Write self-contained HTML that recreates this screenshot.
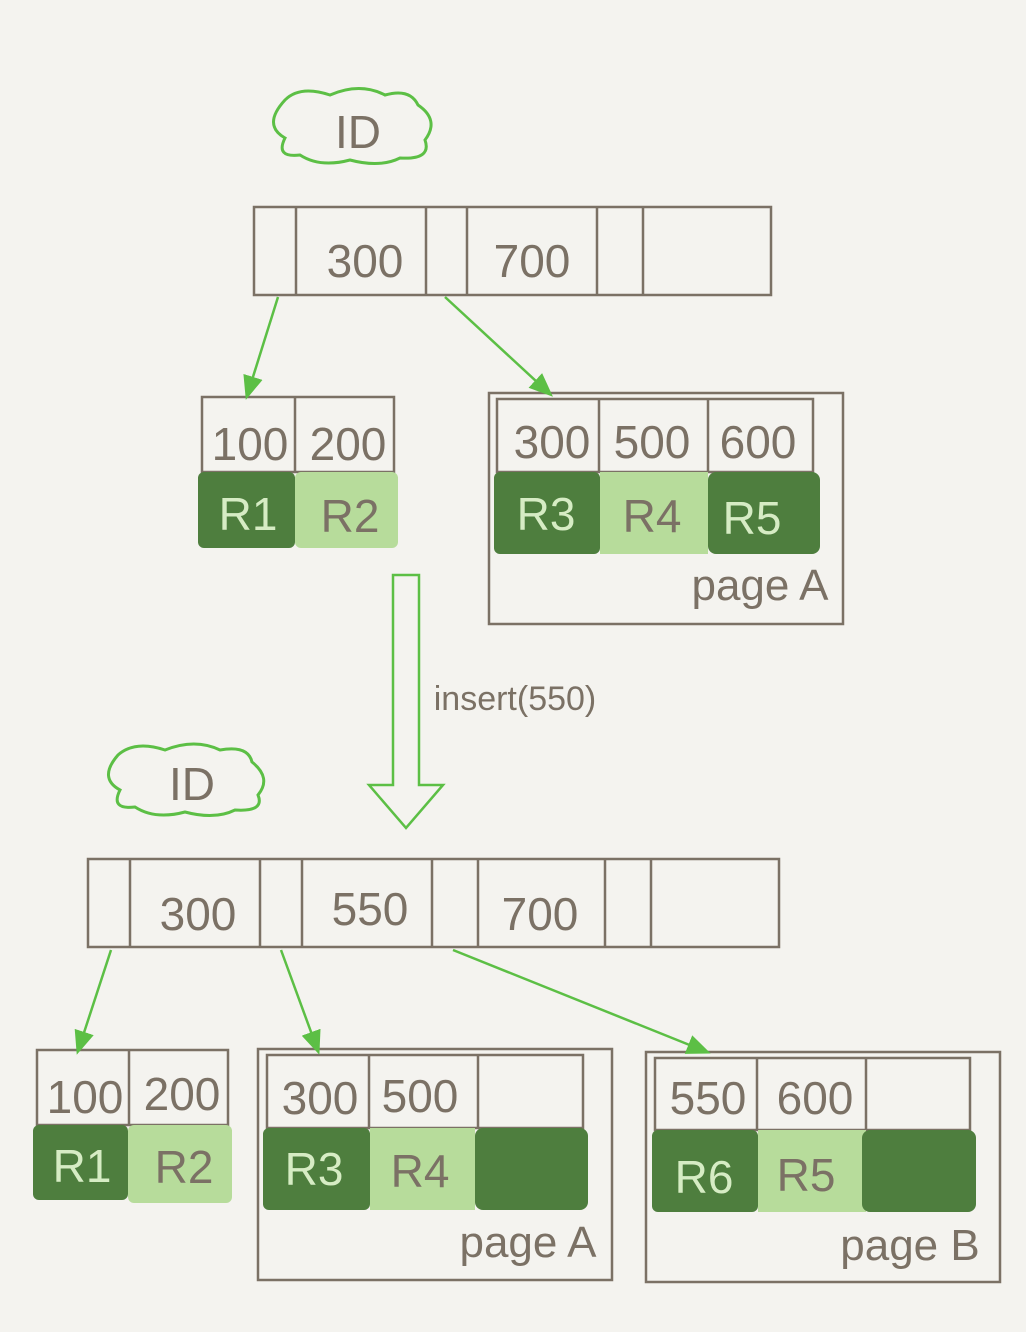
<!DOCTYPE html>
<html><head><meta charset="utf-8"><style>
html,body{margin:0;padding:0;background:#f4f3ef;}
svg{display:block}
text{font-family:"Liberation Sans Narrow","Liberation Sans",sans-serif;fill:#7b7165;text-anchor:middle;}
</style></head><body>
<svg width="1026" height="1332" viewBox="0 0 1026 1332" xmlns="http://www.w3.org/2000/svg">
<rect width="1026" height="1332" fill="#f4f3ef"/>
<defs>
<marker id="ah" markerWidth="24" markerHeight="20" refX="20" refY="10" orient="auto" markerUnits="userSpaceOnUse" viewBox="0 0 24 20">
<path d="M0,0 L24,10 L0,20 Z" fill="#5cbf45"/></marker>
</defs>
<g stroke="#7b7165" stroke-width="2.5" fill="none">
<rect x="254" y="207" width="517" height="88"/>
<path d="M296 207V295M426 207V295M467 207V295M597 207V295M643 207V295"/>
<rect x="202" y="397" width="192" height="75"/>
<path d="M295 397V472"/>
<rect x="489" y="393" width="354" height="231"/>
<rect x="497" y="399" width="316" height="73"/>
<path d="M599 399V472M708 399V472"/>
<rect x="88" y="859" width="691" height="88"/>
<path d="M130 859V947M260 859V947M302 859V947M432 859V947M478 859V947M605 859V947M651 859V947"/>
<rect x="37" y="1050" width="191" height="75"/>
<path d="M129 1050V1125"/>
<rect x="258" y="1049" width="354" height="231"/>
<rect x="267" y="1055" width="316" height="73"/>
<path d="M369 1055V1128M478 1055V1128"/>
<rect x="646" y="1052" width="354" height="230"/>
<rect x="655" y="1058" width="315" height="72"/>
<path d="M757 1058V1130M866 1058V1130"/>
</g>
<g>
<rect x="198" y="472" width="97" height="76" rx="6" fill="#4e7e3e"/>
<rect x="295" y="472" width="103" height="76" rx="6" fill="#b7dc9b"/>
<rect x="494" y="472" width="106" height="82" rx="6" fill="#4e7e3e"/>
<rect x="600" y="472" width="108" height="82" fill="#b7dc9b"/>
<rect x="708" y="472" width="112" height="82" rx="8" fill="#4e7e3e"/>
<rect x="33" y="1125" width="95" height="75" rx="6" fill="#4e7e3e"/>
<rect x="128" y="1125" width="104" height="78" rx="6" fill="#b7dc9b"/>
<rect x="263" y="1128" width="107" height="82" rx="6" fill="#4e7e3e"/>
<rect x="370" y="1128" width="105" height="82" fill="#b7dc9b"/>
<rect x="475" y="1128" width="113" height="82" rx="8" fill="#4e7e3e"/>
<rect x="652" y="1130" width="106" height="82" rx="6" fill="#4e7e3e"/>
<rect x="758" y="1130" width="108" height="82" fill="#b7dc9b"/>
<rect x="862" y="1130" width="114" height="82" rx="8" fill="#4e7e3e"/>
</g>
<g stroke="#5cbf45" stroke-width="2.5" fill="none" marker-end="url(#ah)">
<path d="M278 297L247 396"/>
<path d="M445 297L550 394"/>
<path d="M111 950L78 1051"/>
<path d="M281 950L318 1051"/>
<path d="M453 950L707 1052"/>
</g>
<path d="M393 575H419V785H443L406 828L369 785H393Z" fill="none" stroke="#5cbf45" stroke-width="2.5"/>
<path d="M285 100 Q300 85 330 95 Q360 82 385 95 Q410 88 418 105 Q440 120 425 140 Q432 160 400 158 Q380 168 350 160 Q320 168 300 155 Q275 158 285 138 Q262 125 285 100Z" fill="none" stroke="#5cbf45" stroke-width="3"/>
<path d="M118 755 Q135 740 165 750 Q195 738 220 750 Q248 745 252 762 Q272 778 258 795 Q265 812 235 810 Q215 820 185 812 Q155 820 135 807 Q110 810 120 790 Q98 778 118 755Z" fill="none" stroke="#5cbf45" stroke-width="3"/>
<g font-size="46">
<text x="358" y="148">ID</text>
<text x="192" y="800">ID</text>
<text x="365" y="277">300</text>
<text x="532" y="277">700</text>
<text x="250" y="460">100</text>
<text x="348" y="460">200</text>
<text x="552" y="458">300</text>
<text x="652" y="458">500</text>
<text x="758" y="458">600</text>
<text x="198" y="930">300</text>
<text x="370" y="925">550</text>
<text x="540" y="930">700</text>
<text x="85" y="1113">100</text>
<text x="182" y="1110">200</text>
<text x="320" y="1114">300</text>
<text x="420" y="1112">500</text>
<text x="708" y="1114">550</text>
<text x="815" y="1114">600</text>
</g>
<g font-size="46">
<text x="248" y="530" style="fill:#d6ecc4">R1</text>
<text x="350" y="532">R2</text>
<text x="546" y="530" style="fill:#d6ecc4">R3</text>
<text x="652" y="532">R4</text>
<text x="752" y="534" style="fill:#d6ecc4">R5</text>
<text x="82" y="1182" style="fill:#d6ecc4">R1</text>
<text x="184" y="1183">R2</text>
<text x="314" y="1185" style="fill:#d6ecc4">R3</text>
<text x="420" y="1187">R4</text>
<text x="704" y="1193" style="fill:#d6ecc4">R6</text>
<text x="806" y="1191">R5</text>
</g>
<g font-size="44">
<text x="760" y="600">page A</text>
<text x="528" y="1257">page A</text>
<text x="910" y="1260">page B</text>
</g>
<text x="515" y="710" font-size="34">insert(550)</text>
</svg>
</body></html>
